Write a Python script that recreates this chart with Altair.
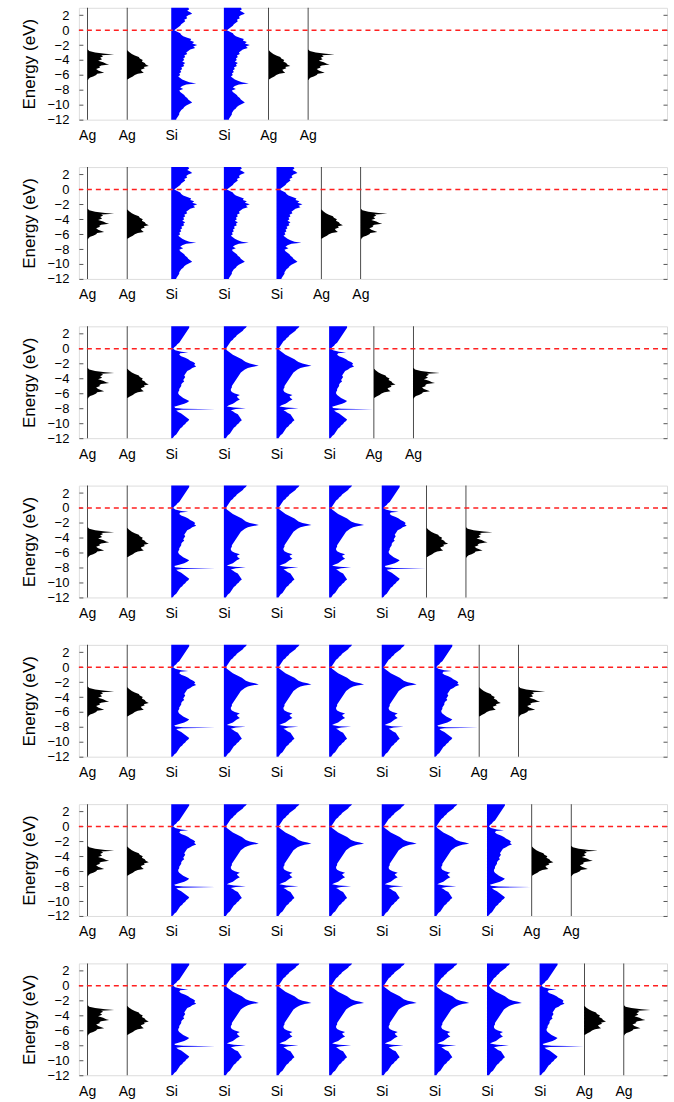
import altair as alt
import pandas as pd

# ---------------- data (energies in eV, DOS in plot units) ----------------
AG_SURF_E = [3.0, -2.6, -2.8, -3.0, -3.15, -3.25, -3.35, -3.5, -3.7, -3.9, -4.1, -4.3, -4.5, -4.6,
             -4.75, -4.9, -5.0, -5.2, -5.4, -5.6, -5.7, -5.85, -6.0, -6.2, -6.35, -6.5, -6.7, -12.0]
AG_SURF_D = [0.7, 0.7, 2, 8, 18, 27, 14, 16, 13, 15, 11, 16, 19, 22,
             14, 12, 13, 9, 11, 15, 17, 10, 9, 6, 3, 1.5, 0.7, 0.7]

AG_SUB_E = [3.0, -2.7, -2.9, -3.2, -3.4, -3.6, -3.8, -4.0, -4.2, -4.4, -4.6, -4.8, -4.95, -5.1,
            -5.3, -5.5, -5.7, -5.85, -6.0, -6.2, -6.4, -6.6, -12.0]
AG_SUB_D = [0.7, 0.7, 2, 5, 8, 12, 13, 16, 15, 18, 19, 22, 17, 18,
            14, 15, 17, 11, 8, 6, 3, 0.7, 0.7]

SI_IF_E = [3.0, 2.8, 2.6, 2.4, 2.2, 2.0, 1.8, 1.6, 1.4, 1.2, 1.0, 0.8, 0.6, 0.4, 0.2, 0.0,
           -0.2, -0.4, -0.6, -0.8, -1.0, -1.2, -1.4, -1.6, -1.8, -2.0, -2.2, -2.4, -2.6, -2.8,
           -3.0, -3.2, -3.4, -3.6, -3.8, -4.0, -4.2, -4.4, -4.6, -4.8, -5.0, -5.2, -5.4, -5.6,
           -5.8, -6.0, -6.2, -6.4, -6.6, -6.8, -7.0, -7.15, -7.3, -7.5, -7.7, -7.9, -8.1, -8.3,
           -8.5, -8.7, -8.9, -9.1, -9.3, -9.5, -9.7, -9.9, -10.1, -10.3, -10.5, -10.7, -10.9,
           -11.1, -11.3, -11.5, -11.7, -11.9, -12.0]
SI_IF_D = [17, 18, 16, 19, 21, 17, 15, 16, 13, 14, 12, 10, 9, 7, 5, 3,
           6, 9, 10, 12, 16, 20, 19, 23, 21, 26, 22, 24, 19, 17,
           15, 16, 13, 14, 12, 13, 11, 14, 12, 13, 10, 11, 9, 10,
           8, 9, 7, 9, 11, 14, 18, 25, 15, 11, 9, 12, 8, 9,
           11, 13, 14, 16, 17, 19, 21, 18, 15, 13, 12, 10, 9,
           8, 8, 7, 6, 5, 5]

SI_EDGE_E = [3.0, 2.8, 2.6, 2.4, 2.2, 2.0, 1.8, 1.6, 1.4, 1.2, 1.0, 0.8, 0.6, 0.4, 0.2, 0.0,
             -0.2, -0.4, -0.5, -0.6, -0.8, -1.0, -1.2, -1.4, -1.6, -1.8, -2.0, -2.2, -2.4, -2.6,
             -2.8, -3.0, -3.2, -3.4, -3.6, -3.8, -4.0, -4.2, -4.4, -4.6, -4.8, -5.0, -5.2, -5.4,
             -5.6, -5.8, -6.0, -6.2, -6.4, -6.6, -6.8, -7.0, -7.2, -7.4, -7.6, -7.8, -7.95, -8.05,
             -8.12, -8.2, -8.3, -8.5, -8.7, -8.9, -9.1, -9.3, -9.5, -9.7, -9.9, -10.1, -10.3,
             -10.5, -10.7, -10.9, -11.1, -11.3, -11.5, -11.7, -11.9, -12.0]
SI_EDGE_D = [18, 18, 17, 16, 15, 14, 13, 12, 11, 10, 9, 8, 6, 5, 3, 2,
             4, 10, 17, 9, 8, 10, 14, 17, 19, 22, 24, 23, 25, 21,
             19, 16, 15, 14, 13, 14, 13, 12, 13, 11, 10, 10, 9, 8,
             8, 7, 7, 8, 10, 12, 15, 18, 16, 13, 8, 3, 4, 12,
             44, 10, 5, 7, 10, 12, 14, 16, 18, 17, 15, 14, 12,
             11, 9, 8, 7, 6, 5, 3, 2, 1]

SI_IN_E = [3.0, 2.8, 2.6, 2.4, 2.2, 2.0, 1.8, 1.6, 1.4, 1.2, 1.0, 0.8, 0.6, 0.4, 0.2, 0.0,
           -0.2, -0.4, -0.6, -0.8, -1.0, -1.2, -1.4, -1.6, -1.8, -2.0, -2.15, -2.3, -2.45, -2.6,
           -2.8, -3.0, -3.2, -3.4, -3.6, -3.8, -4.0, -4.2, -4.4, -4.6, -4.8, -5.0, -5.2, -5.4,
           -5.6, -5.8, -6.0, -6.2, -6.4, -6.6, -6.8, -7.0, -7.2, -7.4, -7.6, -7.75, -7.9, -8.0,
           -8.1, -8.25, -8.4, -8.6, -8.8, -9.0, -9.2, -9.4, -9.6, -9.8, -10.0, -10.2, -10.4,
           -10.6, -10.8, -11.0, -11.2, -11.4, -11.6, -11.8, -12.0]
SI_IN_D = [23, 22, 20, 19, 17, 15, 13, 12, 10, 9, 7, 6, 5, 4, 3, 2,
           3, 5, 7, 9, 12, 15, 18, 20, 22, 26, 31, 35, 28, 24,
           21, 19, 17, 16, 15, 14, 13, 12, 11, 10, 9, 8, 8, 7,
           7, 8, 11, 16, 13, 14, 16, 13, 11, 9, 5, 3, 10, 22,
           12, 7, 9, 11, 14, 15, 16, 17, 18, 16, 15, 13, 12,
           10, 9, 8, 7, 6, 4, 3, 2]

PROFILES = {
    "ag_surf": (AG_SURF_E, AG_SURF_D),
    "ag_sub": (AG_SUB_E, AG_SUB_D),
    "si_if": (SI_IF_E, SI_IF_D),
    "si_edge": (SI_EDGE_E, SI_EDGE_D),
    "si_in": (SI_IN_E, SI_IN_D),
}

# number of Si layers in each of the seven panels
SI_COUNTS = [2, 3, 4, 5, 6, 7, 8]
Y_TICKS = [2, 0, -2, -4, -6, -8, -10, -12]
FERMI = [0]

# ---------------- layout constants ----------------
PLOT_W, PLOT_H = 589, 112
AG1, AG2, SI0, SI_STEP, AG_GAP, AG_STEP = 8.3, 48.0, 92.5, 52.7, 44.5, 39.5
FONT = "Liberation Sans"

yscale = alt.Scale(domain=[-12, 3], nice=False, zero=False)
xscale = alt.Scale(domain=[0, PLOT_W], nice=False, zero=False)


def panel(n_si):
    layers = []  # (kind, profile, baseline)
    layers.append(("Ag", "ag_surf", AG1))
    layers.append(("Ag", "ag_sub", AG2))
    last = SI0
    for k in range(n_si):
        b = SI0 + SI_STEP * k
        last = b
        if n_si <= 3:
            prof = "si_if"
        elif k == 0 or k == n_si - 1:
            prof = "si_edge"
        else:
            prof = "si_in"
        layers.append(("Si", prof, b))
    layers.append(("Ag", "ag_sub", last + AG_GAP))
    layers.append(("Ag", "ag_surf", last + AG_GAP + AG_STEP))

    rows = []
    for i, (kind, prof, b) in enumerate(layers):
        es, ds = PROFILES[prof]
        for e, d in zip(es, ds):
            rows.append({"col": i, "kind": kind, "E": float(e), "x0": float(b), "xv": float(b + d)})
    df = pd.DataFrame(rows)

    bases = [round(l[2], 2) for l in layers]
    names = [l[0] for l in layers]
    ag_bases = [b for b, nm in zip(bases, names) if nm == "Ag"]
    label_expr = ("indexof([" + ",".join(str(b) for b in ag_bases) +
                  "], datum.value) >= 0 ? 'Ag' : 'Si'")

    yenc = alt.Y("E:Q", scale=yscale,
                 axis=alt.Axis(values=Y_TICKS, title="Energy (eV)", ticks=False, domain=False,
                               grid=False, labelPadding=10, labelFontSize=13, labelColor="#000",
                               titleFontSize=17, titleFontWeight="normal", titleColor="#000",
                               titlePadding=8, labelFont=FONT, titleFont=FONT))
    xenc = alt.X("xv:Q", scale=xscale,
                 axis=alt.Axis(values=bases, labelExpr=label_expr, ticks=False, domain=False,
                               grid=False, title=None, labelFlush=False, labelOverlap=False,
                               labelFontSize=14, labelPadding=9, labelColor="#000", labelFont=FONT))
    cenc = alt.Color("kind:N", scale=alt.Scale(domain=["Ag", "Si"], range=["#000000", "#0000ff"]),
                     legend=None)
    area = alt.Chart(df).mark_area(orient="horizontal").encode(
        y=yenc, x=xenc, x2="x0:Q", color=cenc, detail="col:N")

    tick_df = pd.DataFrame({"E": Y_TICKS})
    tl = alt.Chart(tick_df).mark_point(opacity=0).encode(
        y=alt.Y("E:Q", scale=yscale,
                axis=alt.Axis(orient="left", values=Y_TICKS, labels=False, ticks=True, tickSize=4,
                              offset=-4, domain=False, grid=False, title=None, tickColor="#555"))
    )
    tr = alt.Chart(tick_df).mark_point(opacity=0).encode(
        y=alt.Y("E:Q", scale=yscale,
                axis=alt.Axis(orient="right", values=Y_TICKS, labels=False, ticks=True, tickSize=4,
                              offset=-4, domain=False, grid=False, title=None, tickColor="#555"))
    )
    rule = alt.Chart(pd.DataFrame({"E": FERMI})).mark_rule(
        color="#ff2020", strokeDash=[5, 4], strokeWidth=1.5
    ).encode(y=alt.Y("E:Q", scale=yscale, axis=None))

    return alt.layer(area, tl, tr, rule).resolve_axis(y="independent").properties(
        width=PLOT_W, height=PLOT_H)


chart = alt.vconcat(*[panel(n) for n in SI_COUNTS], spacing=22.5).properties(
    padding={"left": 20, "top": 6, "right": 5, "bottom": 5}
).configure_view(stroke="#555", strokeWidth=1).configure(font=FONT)

chart.save("out.html", embed_options={"renderer": "svg", "actions": False})
